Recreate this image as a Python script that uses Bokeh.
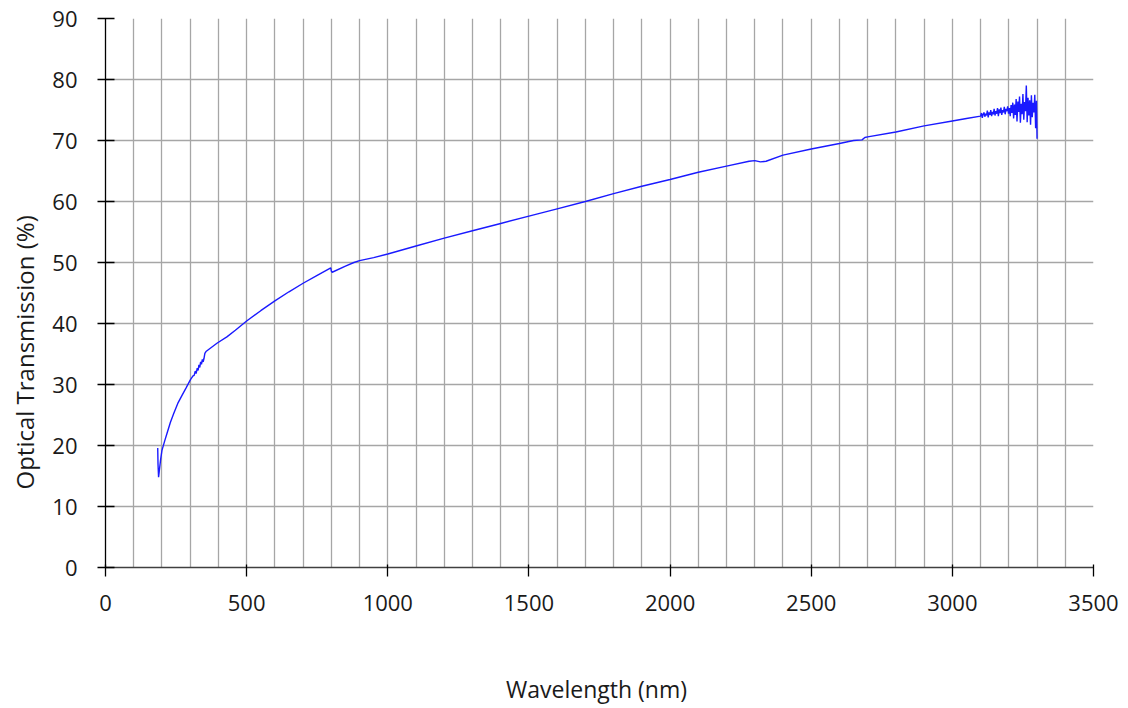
from bokeh.plotting import figure
from bokeh.models import Range1d, SingleIntervalTicker, FixedTicker, Title
from bokeh.embed import file_html
from bokeh.resources import INLINE

# Wavelength (nm) and optical transmission (%)
wl_uv = [185, 186, 188, 190, 195, 200, 210, 218, 230, 242, 256, 272, 286, 301, 310,
         314, 318, 321, 325, 328, 331, 334, 337, 340, 343, 346, 349, 352, 356, 370, 396,
         430, 460, 500, 550, 600, 650, 700, 750, 798, 800, 803, 850, 880, 900, 950]
tr_uv = [19.6, 17.0, 14.8, 15.6, 17.6, 19.2, 20.8, 22.0, 23.8, 25.3, 26.9, 28.3, 29.5, 30.8, 31.4,
         31.5, 32.2, 31.8, 32.7, 32.3, 33.2, 32.8, 33.7, 33.3, 34.1, 33.7, 34.3, 35.1, 35.4, 35.9, 36.8,
         37.8, 38.9, 40.4, 42.1, 43.7, 45.2, 46.6, 47.9, 49.1, 48.6, 48.4, 49.4, 50.0, 50.3, 50.8]

wl_ir = [1000, 1100, 1200, 1300, 1400, 1500, 1600, 1700, 1800, 1900, 2000, 2100, 2200,
         2280, 2300, 2320, 2340, 2400, 2500, 2600, 2650, 2680, 2690, 2700, 2800, 2900, 3000, 3050]
tr_ir = [51.4, 52.7, 54.0, 55.2, 56.4, 57.6, 58.8, 60.0, 61.3, 62.5, 63.6, 64.8, 65.8,
         66.6, 66.7, 66.5, 66.6, 67.6, 68.6, 69.5, 70.0, 70.1, 70.5, 70.6, 71.4, 72.4, 73.2, 73.6]

wl_noisy = [3100, 3103, 3106, 3109, 3112, 3115, 3118, 3121, 3124, 3127, 3130, 3133, 3136, 3139,
            3142, 3145, 3148, 3151, 3154, 3157, 3160, 3163, 3166, 3169, 3172, 3175, 3178, 3181,
            3184, 3187, 3190, 3193, 3196, 3199, 3202, 3205, 3208, 3211, 3214, 3217, 3220, 3223,
            3226, 3229, 3232, 3235, 3238, 3241, 3244, 3247, 3250, 3253, 3256, 3259, 3262, 3265,
            3268, 3271, 3274, 3277, 3280, 3283, 3286, 3289, 3292, 3295, 3298, 3300]
tr_noisy = [74.0, 74.5, 73.7, 74.3, 74.6, 73.9, 74.4, 74.1, 74.9, 73.8, 74.6, 74.2, 75.0, 74.0,
            74.7, 74.3, 75.2, 74.1, 74.8, 74.4, 75.3, 74.0, 75.1, 74.5, 75.4, 74.2, 75.0, 74.6,
            75.5, 74.3, 75.2, 74.8, 75.6, 74.4, 75.3, 74.0, 75.8, 74.5, 76.2, 73.6, 75.9, 74.2,
            76.8, 73.1, 76.4, 74.7, 77.2, 72.9, 76.0, 74.3, 77.6, 73.4, 76.3, 74.8, 79.0, 73.0,
            77.0, 74.1, 76.6, 72.6, 77.4, 73.8, 76.2, 74.6, 77.5, 72.0, 76.5, 70.3]

wavelength = wl_uv + wl_ir + wl_noisy
transmission = tr_uv + tr_ir + tr_noisy

x_ticks = [0, 500, 1000, 1500, 2000, 2500, 3000, 3500]
y_ticks = [0, 10, 20, 30, 40, 50, 60, 70, 80, 90]
x_title = "Wavelength  (nm)"
y_title = "Optical Transmission (%)"

FONT = "Open Sans"
FS = "22px"

p = figure(width=1120, height=707, output_backend="svg", toolbar_location=None,
           x_range=Range1d(0, 3500), y_range=Range1d(0, 90),
           min_border_left=105, min_border_right=27, min_border_top=18, min_border_bottom=139)
p.outline_line_color = None
p.background_fill_color = "white"
p.border_fill_color = "white"

p.line(wavelength, transmission, line_color="#1a1aff", line_width=1.4)

# grids
p.xgrid.ticker = SingleIntervalTicker(interval=100)
p.ygrid.ticker = SingleIntervalTicker(interval=10)
for g in (p.xgrid, p.ygrid):
    g.grid_line_color = "#a6a6a6"
    g.grid_line_width = 1.3

# axes
p.xaxis.ticker = FixedTicker(ticks=x_ticks)
p.yaxis.ticker = FixedTicker(ticks=y_ticks)
for ax in (p.xaxis, p.yaxis):
    ax.minor_tick_line_color = None
    ax.major_label_text_font = FONT
    ax.major_label_text_font_size = FS
    ax.major_label_text_color = "#1a1a1a"
    ax.major_tick_line_width = 1.3
    ax.axis_line_width = 1.3

p.xaxis.axis_line_color = "#404040"
p.xaxis.major_tick_line_color = "#000000"
p.xaxis.major_tick_in = 3
p.xaxis.major_tick_out = 9
p.xaxis.major_label_standoff = 18
p.xaxis.axis_label = x_title
p.xaxis.axis_label_text_font = FONT
p.xaxis.axis_label_text_font_size = "23px"
p.xaxis.axis_label_text_font_style = "normal"
p.xaxis.axis_label_text_color = "#1a1a1a"
p.xaxis.axis_label_standoff = 59

p.yaxis.axis_line_color = "#000000"
p.yaxis.major_tick_line_color = "#000000"
p.yaxis.major_tick_in = 9
p.yaxis.major_tick_out = 8
p.yaxis.major_label_standoff = 20

# y-axis title as a side title so it can sit where the reference has it
p.add_layout(Title(text=y_title, align="left", offset=78, vertical_align="top", standoff=14,
                   text_font=FONT, text_font_size="24px", text_font_style="normal",
                   text_color="#1a1a1a"), "left")

open("out.html", "w").write(file_html(p, INLINE))
